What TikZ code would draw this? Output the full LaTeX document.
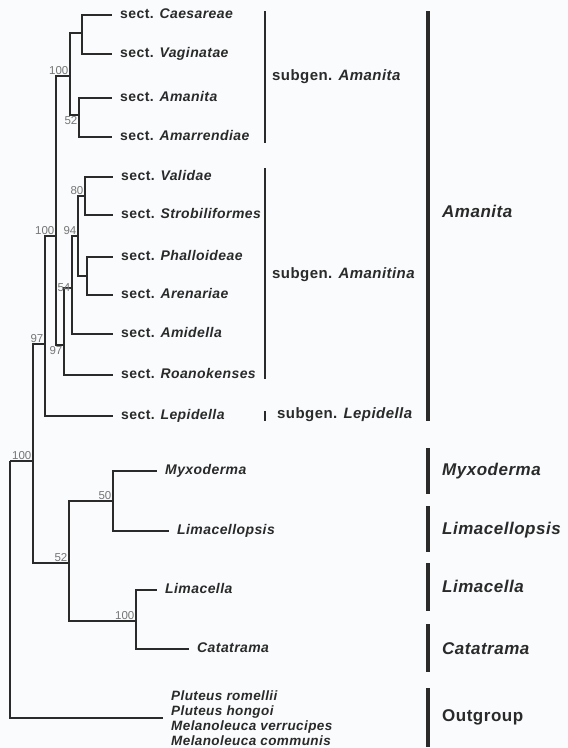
\documentclass[tikz,border=0pt]{standalone}
\usepackage{fontspec}
\setmainfont{Liberation Sans}
\newfontfamily\spacedsans[LetterSpace=3]{Liberation Sans}
\definecolor{branch}{RGB}{42, 42, 42}
\definecolor{support}{RGB}{118, 118, 118}
\definecolor{paper}{RGB}{249, 251, 252}
\usetikzlibrary{positioning}

\begin{document}
\begin{tikzpicture}[x=1pt, y=-1pt]
                \tikzstyle{leaf} = [anchor=west, inner xsep=8pt, inner ysep=0pt, text=branch, text height=10pt, text depth=3pt, font=\spacedsans\fontsize{14}{16}\selectfont\bfseries]
                \tikzstyle{bs} = [anchor=south east, inner sep=1.5pt, text=support, font=\fontsize{11.5}{12}\selectfont]
                \tikzstyle{br} = [draw=branch, line width=2.2pt]
                \tikzstyle{sub} = [anchor=west, inner sep=0pt, text=branch, font=\spacedsans\fontsize{15}{17}\selectfont\bfseries]
                \tikzstyle{gen} = [anchor=west, inner sep=0pt, text=branch, font=\spacedsans\fontsize{17}{19}\selectfont\bfseries]

                \fill[paper] (0,0) rectangle (568,748);
                \useasboundingbox (0,0) rectangle (568,748);

                \node [leaf] (caes) at (112,15) {sect. \textit{Caesareae}};
                \node [leaf] (vagi) at (112,54) {sect. \textit{Vaginatae}};
                \node [leaf] (aman) at (112,98) {sect. \textit{Amanita}};
                \node [leaf] (amar) at (112,137) {sect. \textit{Amarrendiae}};
                \node [leaf] (vali) at (113,177) {sect. \textit{Validae}};
                \node [leaf] (stro) at (113,215) {sect. \textit{Strobiliformes}};
                \node [leaf] (phal) at (113,257) {sect. \textit{Phalloideae}};
                \node [leaf] (aren) at (113,295) {sect. \textit{Arenariae}};
                \node [leaf] (amid) at (113,334) {sect. \textit{Amidella}};
                \node [leaf] (roan) at (113,375) {sect. \textit{Roanokenses}};
                \node [leaf] (lepi) at (113,416) {sect. \textit{Lepidella}};
                \node [leaf] (myxo) at (157,471) {\textit{Myxoderma}};
                \node [leaf] (limo) at (169,531) {\textit{Limacellopsis}};
                \node [leaf] (lima) at (157,590) {\textit{Limacella}};
                \node [leaf] (cata) at (189,649) {\textit{Catatrama}};
                \node [leaf, align=left, text height=, text depth=, font=\spacedsans\fontsize{13.5}{15}\selectfont\bfseries\itshape] (outg) at (163,718)
                    {Pluteus romellii\\Pluteus hongoi\\Melanoleuca verrucipes\\Melanoleuca communis};

                \coordinate (cv) at (82,33);
                \coordinate (aa) at (79,115);
                \coordinate (sa) at (70,76);
                \coordinate (vs) at (85,196);
                \coordinate (pa) at (87,276);
                \coordinate (n94) at (78,236);
                \coordinate (n54) at (72,288);
                \coordinate (sat) at (64,345);
                \coordinate (n100) at (56,236);
                \coordinate (n97) at (45,344);
                \coordinate (genus) at (33,461);
                \coordinate (n52) at (69,563);
                \coordinate (n50) at (113,501);
                \coordinate (lc) at (136,621);
                \coordinate (root) at (10,461);

                \draw [br] (cv) |- (caes.west) (cv) |- (vagi.west);
                \draw [br] (aa) |- (aman.west) (aa) |- (amar.west);
                \draw [br] (sa) |- (cv) (sa) |- (aa);
                \draw [br] (vs) |- (vali.west) (vs) |- (stro.west);
                \draw [br] (pa) |- (phal.west) (pa) |- (aren.west);
                \draw [br] (n94) |- (vs) (n94) |- (pa);
                \draw [br] (n54) |- (n94) (n54) |- (amid.west);
                \draw [br] (sat) |- (n54) (sat) |- (roan.west);
                \draw [br] (n100) |- (sa) (n100) |- (sat);
                \draw [br] (n97) |- (n100) (n97) |- (lepi.west);
                \draw [br] (genus) |- (n97) (genus) |- (n52);
                \draw [br] (n50) |- (myxo.west) (n50) |- (limo.west);
                \draw [br] (lc) |- (lima.west) (lc) |- (cata.west);
                \draw [br] (n52) |- (n50) (n52) |- (lc);
                \draw [br] (root) -- (genus) (root) |- (outg.west);

                \node [bs] at (sa) {100};
                \node [bs, anchor=north east] at (aa) {52};
                \node [bs] at (vs) {80};
                \node [bs] at (n94) {94};
                \node [bs, anchor=east] at (n54) {54};
                \node [bs, anchor=north east] at (sat) {97};
                \node [bs] at (n100) {100};
                \node [bs] at (n97) {97};
                \node [bs] at (genus) {100};
                \node [bs] at (n50) {50};
                \node [bs] at (n52) {52};
                \node [bs] at (lc) {100};

                \foreach \a/\b in {11/143, 168/379, 411/421}
                    \draw [draw=branch, line width=2.2pt] (265,\a) -- (265,\b);
                \foreach \a/\b in {11/421, 448/494, 506/552, 563/611, 624/672, 688/747}
                    \draw [draw=branch, line width=3.5pt] (428,\a) -- (428,\b);

                \node [sub] (sgama) at (272,77) {subgen. \textit{Amanita}};
                \node [sub] (sgamt) at (272,275) {subgen. \textit{Amanitina}};
                \node [sub] (sglep) at (277,415) {subgen. \textit{Lepidella}};
                \node [gen] (gama) at (442,211) {\textit{Amanita}};
                \node [gen] (gmyx) at (442,471) {\textit{Myxoderma}};
                \node [gen] (glmo) at (442,530) {\textit{Limacellopsis}};
                \node [gen] (glim) at (442,586) {\textit{Limacella}};
                \node [gen] (gcat) at (442,649) {\textit{Catatrama}};
                \node [gen] (gout) at (442,717) {Outgroup};
            \end{tikzpicture}
\end{document}
